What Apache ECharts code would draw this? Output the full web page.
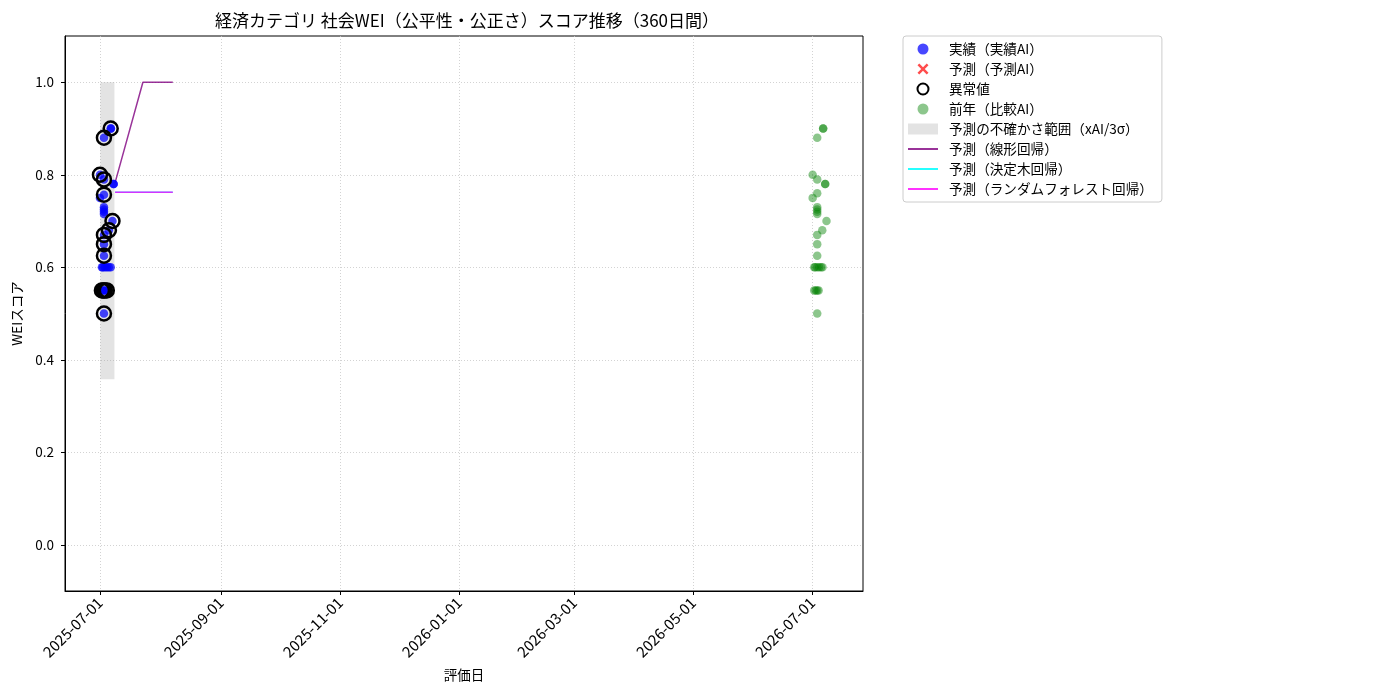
<!DOCTYPE html>
<html>
<head>
<meta charset="utf-8">
<script src="https://cdn.jsdelivr.net/npm/echarts@6/dist/echarts.min.js"></script>
<style>
html,body{margin:0;padding:0;background:#fff;}
#chart{width:1400px;height:700px;}
</style>
</head>
<body>
<div id="chart"></div>
<script>
// ---- data ----
const titleText = '経済カテゴリ 社会WEI（公平性・公正さ）スコア推移（360日間）';
const xTickDates = ['2025-07-01','2025-09-01','2025-11-01','2026-01-01','2026-03-01','2026-05-01','2026-07-01'];
const yTickValues = [0.0, 0.2, 0.4, 0.6, 0.8, 1.0];

const actualDates = [
  '2025-07-01 00:00','2025-07-01 00:00',
  '2025-07-03 01:00','2025-07-03 01:00','2025-07-03 01:00','2025-07-03 01:00','2025-07-03 01:00',
  '2025-07-03 01:00','2025-07-03 01:00','2025-07-03 01:00','2025-07-03 01:00','2025-07-03 01:00','2025-07-03 01:00',
  '2025-07-05 14:00','2025-07-06 12:00','2025-07-06 16:00','2025-07-07 10:00','2025-07-08 00:00','2025-07-08 00:00',
  '2025-07-02 00:00','2025-07-02 12:00','2025-07-03 12:00','2025-07-04 12:00','2025-07-05 12:00','2025-07-06 12:00',
  '2025-07-02 00:00','2025-07-02 18:00','2025-07-03 12:00','2025-07-04 12:00'
];
const actualValues = [
  0.80, 0.75,
  0.88, 0.79, 0.757, 0.73, 0.72, 0.715,
  0.67, 0.65, 0.625, 0.50, 0.725,
  0.68, 0.90, 0.90, 0.70, 0.78, 0.78,
  0.60, 0.60, 0.60, 0.60, 0.60, 0.60,
  0.55, 0.55, 0.55, 0.55
];

const anomalyDates = [
  '2025-07-01 00:00','2025-07-03 01:00','2025-07-03 01:00','2025-07-03 01:00',
  '2025-07-03 01:00','2025-07-03 01:00','2025-07-03 01:00','2025-07-03 01:00',
  '2025-07-05 14:00','2025-07-06 12:00','2025-07-07 10:00',
  '2025-07-02 00:00','2025-07-02 18:00','2025-07-03 12:00','2025-07-04 12:00'
];
const anomalyValues = [
  0.80, 0.88, 0.79, 0.757,
  0.67, 0.65, 0.625, 0.50,
  0.68, 0.90, 0.70,
  0.55, 0.55, 0.55, 0.55
];

const prevDates = [
  '2026-07-01 05:00','2026-07-01 05:00',
  '2026-07-03 13:00','2026-07-03 13:00','2026-07-03 13:00','2026-07-03 13:00','2026-07-03 13:00',
  '2026-07-03 13:00','2026-07-03 13:00','2026-07-03 13:00','2026-07-03 13:00','2026-07-03 13:00','2026-07-03 13:00',
  '2026-07-06 03:00','2026-07-06 14:00','2026-07-06 14:00','2026-07-08 07:00','2026-07-07 15:00','2026-07-07 15:00',
  '2026-07-02 00:00','2026-07-02 12:00','2026-07-03 13:00','2026-07-04 12:00','2026-07-05 12:00','2026-07-06 06:00',
  '2026-07-02 00:00','2026-07-02 18:00','2026-07-03 13:00','2026-07-04 06:00'
];
const prevValues = [
  0.80, 0.75,
  0.88, 0.79, 0.76, 0.73, 0.72, 0.715,
  0.67, 0.65, 0.625, 0.50, 0.725,
  0.68, 0.90, 0.90, 0.70, 0.78, 0.78,
  0.60, 0.60, 0.60, 0.60, 0.60, 0.60,
  0.55, 0.55, 0.55, 0.55
];

const forecastDates = ['2025-07-08 18:00','2025-07-23 00:00','2025-08-07 08:00'];
const linearValues = [0.783, 1.0, 1.0];
const treeValues = [0.762, 0.762, 0.762];
const rfValues = [0.762, 0.762, 0.762];

const bandDates = ['2025-07-01 05:00','2025-07-08 10:00'];
const bandLow = [0.358, 0.358];
const bandHigh = [1.0, 1.0];

const xMinDate = '2025-06-13 02:00';
const xMaxDate = '2026-07-27 00:00';
const yMin = -0.1, yMax = 1.1;

// ---- helpers ----
function ts(s){
  const m = s.match(/(\d+)-(\d+)-(\d+)(?:\s+(\d+):(\d+))?/);
  return new Date(+m[1], +m[2]-1, +m[3], m[4]?+m[4]:0, m[5]?+m[5]:0).getTime();
}
function pad(n){return n<10?'0'+n:''+n;}
function fmtDate(v){const d=new Date(v);return d.getFullYear()+'-'+pad(d.getMonth()+1)+'-'+pad(d.getDate());}
function pairs(ds, vs){return ds.map((d,i)=>[ts(d), vs[i]]);}

const FONT = '"Noto Sans CJK JP", "Noto Sans", sans-serif';
const names = {
  actual:'実績（実績AI）', pred:'予測（予測AI）', anom:'異常値', prev:'前年（比較AI）',
  band:'予測の不確かさ範囲（xAI/3σ）', lin:'予測（線形回帰）', tree:'予測（決定木回帰）', rf:'予測（ランダムフォレスト回帰）'
};
const xPath = 'path://M0,1.6L1.6,0L5,3.4L8.4,0L10,1.6L6.6,5L10,8.4L8.4,10L5,6.6L1.6,10L0,8.4L3.4,5Z';

const chart = echarts.init(document.getElementById('chart'), null, {renderer:'canvas'});
const bandData = bandDates.map((d,i)=>[ts(d), bandLow[i], bandHigh[i]]);
const xTickTs = xTickDates.map(ts);

chart.setOption({
  animation:false,
  backgroundColor:'#fff',
  textStyle:{fontFamily:FONT},
  title:{
    text:titleText, left:462, top:7, textAlign:'center',
    textStyle:{fontFamily:FONT, fontSize:17, fontWeight:'normal', color:'#000'}
  },
  grid:{left:65, right:537, top:36, bottom:109, show:true, borderColor:'#000', borderWidth:1, containLabel:false},
  legend:{
    orient:'vertical', left:903, top:36,
    padding:[6,9,6,4], itemGap:6, itemWidth:30, itemHeight:11,
    backgroundColor:'#fff', borderColor:'#cccccc', borderWidth:1, borderRadius:3,
    textStyle:{fontFamily:FONT, fontSize:13.6, color:'#000', lineHeight:14, padding:[0,0,0,6]},
    selectedMode:false,
    data:[
      {name:names.actual, icon:'circle'},
      {name:names.pred, icon:xPath},
      {name:names.anom, icon:'circle'},
      {name:names.prev, icon:'circle'},
      {name:names.band, icon:'rect'},
      {name:names.lin, itemStyle:{opacity:0}},
      {name:names.tree, itemStyle:{opacity:0}},
      {name:names.rf, itemStyle:{opacity:0}}
    ]
  },
  xAxis:{
    type:'value', min:ts(xMinDate), max:ts(xMaxDate), scale:true,
    name:'評価日', nameLocation:'middle', nameGap:77,
    nameTextStyle:{fontFamily:FONT, fontSize:13.5, color:'#000'},
    axisLine:{show:true, onZero:false, lineStyle:{color:'#000', width:1}},
    axisTick:{show:true, length:4, lineStyle:{color:'#000'}, customValues:xTickTs},
    axisLabel:{rotate:45, fontFamily:FONT, fontSize:15, color:'#000', margin:9, customValues:xTickTs, formatter:fmtDate, hideOverlap:false},
    splitLine:{show:true, lineStyle:{color:'#c8c8c8', type:[1,2], width:0.8}},
    minorTick:{show:false}
  },
  yAxis:{
    type:'value', min:yMin, max:yMax,
    name:'WEIスコア', nameLocation:'middle', nameGap:41,
    nameTextStyle:{fontFamily:FONT, fontSize:13.5, color:'#000'},
    axisLine:{show:true, onZero:false, lineStyle:{color:'#000', width:1}},
    axisTick:{show:true, length:4, lineStyle:{color:'#000'}, customValues:yTickValues},
    axisLabel:{fontFamily:FONT, fontSize:13.5, color:'#000', margin:11, customValues:yTickValues, formatter:v=>v.toFixed(1)},
    splitLine:{show:true, lineStyle:{color:'#c8c8c8', type:[1,2], width:0.8}}
  },
  series:[
    {
      name:names.band, type:'custom', silent:true, z:1,
      itemStyle:{color:'rgba(150,150,150,0.27)'},
      data:bandData,
      encode:{x:0, y:[1,2]},
      renderItem:function(params, api){
        if(params.dataIndex!==0) return null;
        const p0 = api.coord([bandData[0][0], bandData[0][2]]);
        const p1 = api.coord([bandData[bandData.length-1][0], bandData[0][1]]);
        return {type:'rect', shape:{x:p0[0], y:p0[1], width:p1[0]-p0[0], height:p1[1]-p0[1]},
          style:{fill:'rgba(150,150,150,0.27)'}};
      }
    },
    {name:names.tree, type:'line', showSymbol:false, symbol:'none', z:2, silent:true,
      lineStyle:{color:'rgba(0,255,255,0.85)', width:1.5}, itemStyle:{color:'rgba(0,255,255,0.85)'},
      data:pairs(forecastDates, treeValues)},
    {name:names.lin, type:'line', showSymbol:false, symbol:'none', z:2, silent:true,
      lineStyle:{color:'rgba(128,0,128,0.8)', width:1.5}, itemStyle:{color:'rgba(128,0,128,0.8)'},
      data:pairs(forecastDates, linearValues)},
    {name:names.rf, type:'line', showSymbol:false, symbol:'none', z:2, silent:true,
      lineStyle:{color:'rgba(255,0,255,0.8)', width:1.5}, itemStyle:{color:'rgba(255,0,255,0.8)'},
      data:pairs(forecastDates, rfValues)},
    {name:names.actual, type:'scatter', symbol:'circle', symbolSize:8.5, z:3, silent:true,
      itemStyle:{color:'rgba(0,0,255,0.72)', opacity:1},
      data:pairs(actualDates, actualValues)},
    {name:names.pred, type:'scatter', symbol:xPath, symbolSize:11, z:3, silent:true,
      itemStyle:{color:'rgba(255,0,0,0.7)', opacity:1}, data:[]},
    {name:names.anom, type:'scatter', symbol:'circle', symbolSize:14, z:4, silent:true,
      itemStyle:{color:'rgba(0,0,0,0)', borderColor:'#000', borderWidth:2.5, opacity:1},
      data:pairs(anomalyDates, anomalyValues)},
    {name:names.prev, type:'scatter', symbol:'circle', symbolSize:8.5, z:3, silent:true,
      itemStyle:{color:'rgba(0,128,0,0.45)', opacity:1},
      data:pairs(prevDates, prevValues)}
  ]
});
</script>
</body>
</html>
